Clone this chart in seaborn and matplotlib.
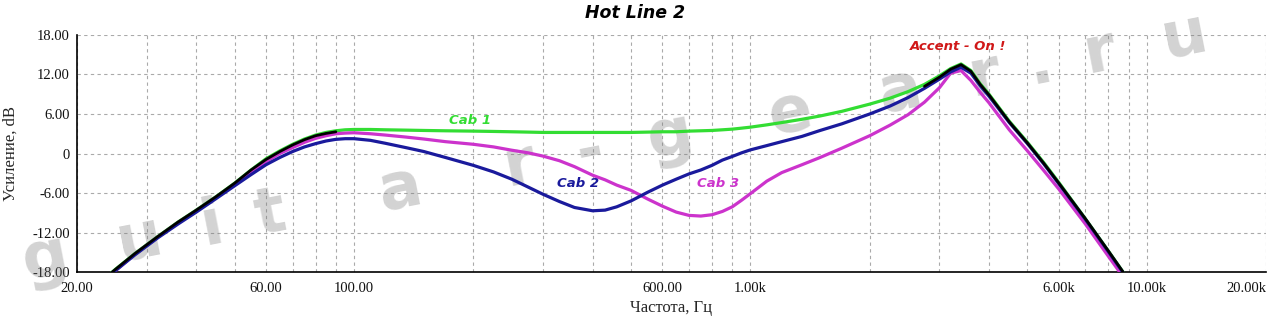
import numpy as np
import pandas as pd
import matplotlib
matplotlib.use("Agg")
import matplotlib.pyplot as plt
import seaborn as sns
from matplotlib.ticker import FixedLocator, FixedFormatter, NullLocator

# ---------------- data ----------------
freq = [22, 25, 28, 32, 36, 40, 45, 50, 55, 60,
        65, 70, 75, 80, 85, 90, 95, 100, 110, 120,
        135, 150, 170, 200, 225, 250, 275, 300, 330, 360,
        400, 430, 460, 500, 550, 600, 650, 700, 750, 800,
        850, 900, 950, 1000, 1100, 1200, 1350, 1500, 1700, 2000,
        2250, 2500, 2750, 3000, 3200, 3400, 3600, 3800, 4000, 4500,
        5000, 5500, 6000, 7000, 8000, 9000, 9500]

cab1 = [-20.5, -17.6, -15.2, -12.6, -10.4, -8.6, -6.5, -4.5, -2.5, -0.8,
        0.4, 1.4, 2.2, 2.8, 3.2, 3.45, 3.6, 3.65, 3.65, 3.6,
        3.55, 3.5, 3.45, 3.4, 3.35, 3.3, 3.25, 3.2, 3.2, 3.2,
        3.2, 3.2, 3.2, 3.2, 3.25, 3.3, 3.3, 3.4, 3.45, 3.5,
        3.6, 3.7, 3.85, 4.0, 4.35, 4.7, 5.2, 5.7, 6.4, 7.5,
        8.4, 9.4, 10.5, 11.8, 12.9, 13.6, 12.6, 10.6, 9.0, 4.9,
        1.7, -1.4, -4.4, -9.9, -14.8, -19.2, -21.0]

cab2 = [-20.6, -17.8, -15.4, -12.8, -10.7, -8.9, -6.8, -4.9, -3.2, -1.7,
        -0.6, 0.3, 1.0, 1.5, 1.9, 2.15, 2.25, 2.25, 2.0, 1.55,
        0.9, 0.3, -0.6, -1.8, -2.8, -3.9, -5.1, -6.2, -7.3, -8.2,
        -8.7, -8.6, -8.1, -7.2, -5.9, -4.8, -3.9, -3.1, -2.5, -1.8,
        -1.0, -0.45, 0.1, 0.55, 1.2, 1.8, 2.6, 3.5, 4.5, 6.0,
        7.2, 8.5, 9.9, 11.3, 12.4, 13.1, 12.2, 10.3, 8.7, 4.7,
        1.5, -1.6, -4.6, -10.0, -14.9, -19.3, -21.1]

cab3 = [-20.6, -17.8, -15.3, -12.7, -10.5, -8.7, -6.6, -4.7, -2.9, -1.2,
        0.0, 0.9, 1.7, 2.3, 2.7, 3.0, 3.1, 3.15, 3.0, 2.8,
        2.5, 2.2, 1.8, 1.4, 1.0, 0.5, 0.1, -0.4, -1.1, -2.0,
        -3.3, -4.0, -4.8, -5.6, -6.9, -8.0, -8.9, -9.4, -9.5, -9.3,
        -8.8, -8.1, -7.1, -6.1, -4.2, -2.9, -1.7, -0.6, 0.8, 2.7,
        4.3, 5.9, 7.8, 10.0, 12.2, 12.6, 11.1, 9.3, 7.7, 3.6,
        0.4, -2.6, -5.4, -10.7, -15.6, -19.9, -21.7]

# black reference curve (visible only at the low and high ends)
base_low_freq = [22, 25, 28, 32, 36, 40, 45, 50, 55, 60, 65, 70, 75, 80, 85, 90]
base_low = [-20.5, -17.6, -15.2, -12.6, -10.4, -8.6, -6.5, -4.5, -2.5, -0.9,
            0.3, 1.3, 2.1, 2.7, 3.05, 3.3]
base_high_freq = [2750, 3000, 3200, 3400, 3600, 3800, 4000, 4500, 5000,
                  5500, 6000, 7000, 8000, 9000, 9500]
base_high = [10.2, 11.6, 12.8, 13.5, 12.5, 10.5, 8.9, 4.8, 1.6,
             -1.5, -4.5, -9.9, -14.8, -19.2, -21.0]

x_grid = [20, 30, 40, 50, 60, 70, 80, 90,
          100, 200, 300, 400, 500, 600, 700, 800, 900,
          1000, 2000, 3000, 4000, 5000, 6000, 7000, 8000, 9000,
          10000, 20000]
x_label_map = {20: "20.00", 60: "60.00", 100: "100.00", 600: "600.00",
               1000: "1.00k", 6000: "6.00k", 10000: "10.00k", 20000: "20.00k"}
y_ticks = [-18, -12, -6, 0, 6, 12, 18]
y_labels = ["-18.00", "-12.00", "-6.00", "0", "6.00", "12.00", "18.00"]

curve_labels = [("Cab 1", 196, 5.0, "#33dd33"),
                ("Cab 2", 368, -4.6, "#1a1a9c"),
                ("Cab 3", 830, -4.5, "#cc33cc"),
                ("Accent - On !", 3340, 16.3, "#d01818")]

watermark = "guitar-gear.ru"
wm_x = [45, 140, 212, 270, 400, 520, 590, 670, 790, 900, 985, 1040, 1100, 1185]

# ---------------- plotting ----------------
sns.set_style("white")
plt.rcParams["font.family"] = ["Liberation Serif", "DejaVu Serif"]

fig = plt.figure(figsize=(12.7, 3.21), dpi=100)
ax = fig.add_axes([0.0606, 0.1526, 0.9363, 0.7384])
ax.set_xscale("log")

# watermark (behind the curves)
for ch, px in zip(watermark, wm_x):
    py = 258 - (px - 45) * (222 / 1140)
    ax.text(px / 1270, 1 - py / 321, ch, transform=fig.transFigure,
            fontsize=46, fontweight="bold", color="#7a7a7a", alpha=0.33, rotation=11,
            ha="center", va="center", family="DejaVu Sans", clip_on=False, zorder=1)

df1 = pd.DataFrame({"f": freq, "g": cab1})
df2 = pd.DataFrame({"f": freq, "g": cab2})
df3 = pd.DataFrame({"f": freq, "g": cab3})
sns.lineplot(data=df1, x="f", y="g", ax=ax, color="#33dd33", lw=2.3, zorder=3)
sns.lineplot(data=df3, x="f", y="g", ax=ax, color="#cc33cc", lw=2.3, zorder=4)
sns.lineplot(data=df2, x="f", y="g", ax=ax, color="#1a1a9c", lw=2.3, zorder=5)
sns.lineplot(x=base_low_freq, y=base_low, ax=ax, color="black", lw=2.0, zorder=6)
sns.lineplot(x=base_high_freq, y=base_high, ax=ax, color="black", lw=2.0, zorder=6)

ax.set_xlim(20, 20000)
ax.set_ylim(-18, 18)

ax.xaxis.set_major_locator(FixedLocator(x_grid))
ax.xaxis.set_major_formatter(FixedFormatter([x_label_map.get(v, "") for v in x_grid]))
ax.xaxis.set_minor_locator(NullLocator())
ax.yaxis.set_major_locator(FixedLocator(y_ticks))
ax.yaxis.set_major_formatter(FixedFormatter(y_labels))

ax.grid(True, which="major", color="#aaaaaa", linestyle=(0, (3, 3)), linewidth=0.8)
ax.set_axisbelow(True)
for s in ["top", "right"]:
    ax.spines[s].set_visible(False)
for s in ["left", "bottom"]:
    ax.spines[s].set_color("black")
    ax.spines[s].set_linewidth(1.2)
ax.tick_params(axis="both", which="major", length=3, width=0.8, color="#555555",
               labelsize=10.5, labelcolor="#111111", pad=2)
ax.tick_params(axis="x", pad=4)

ax.set_xlabel("Частота, Гц", fontsize=12, labelpad=4)
ax.set_ylabel("Усиление, dB", fontsize=12, labelpad=10)

fig.text(0.5, 0.958, "Hot Line 2", ha="center", va="center", fontsize=12.5,
         fontweight="bold", fontstyle="italic", family="DejaVu Sans", color="black")

for txt, fx, fy, col in curve_labels:
    ax.text(fx, fy, txt, ha="center", va="center", fontsize=9.5, fontweight="bold",
            fontstyle="italic", family="DejaVu Sans", color=col, zorder=7)

fig.canvas.draw()
ax.get_xticklabels()[-1].set_ha("right")

fig.savefig("out.png", dpi=100)
